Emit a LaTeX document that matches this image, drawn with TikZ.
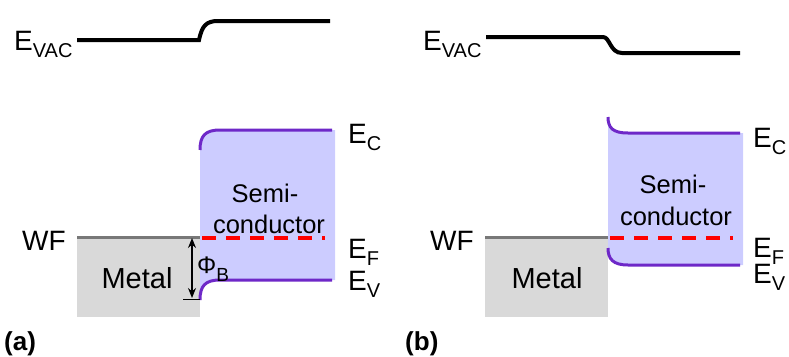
\documentclass[tikz,border=0pt]{standalone}
\usepackage{fontspec}
\setmainfont{Liberation Sans}
\usetikzlibrary{arrows.meta}
\definecolor{bandline}{RGB}{110,40,200}
\definecolor{semifill}{RGB}{204,204,255}
\definecolor{metalfill}{RGB}{217,217,217}
\definecolor{wfgray}{RGB}{120,120,120}
\newcommand{\esub}[2]{#1\raisebox{-7pt}{\fontsize{20}{20}\selectfont #2}}
\begin{document}
\begin{tikzpicture}[x=1pt,y=-1pt,
  lbl/.style={inner sep=0pt, font=\fontsize{28}{30}\selectfont, anchor=base west},
  ctr/.style={inner sep=0pt, anchor=base},
  band/.style={bandline, line width=3pt},
  vac/.style={black, line width=4pt},
  wfline/.style={wfgray, line width=3pt},
  efline/.style={red, line width=3.5pt, dash pattern=on 14pt off 10pt},
  panel/.style={inner sep=0pt, anchor=base west, font=\fontsize{26}{28}\selectfont\bfseries}]
\useasboundingbox (0,0) rectangle (789,356);

% ---------------- panel (a) ----------------
\fill[semifill] (200,150) .. controls (200,136) and (205,130) .. (220,130) -- (335,130) -- (335,280) -- (220,280) .. controls (205,280) and (200,286) .. (200,300) -- cycle;
\fill[metalfill] (77,237) rectangle (200,317);
\draw[band] (200,150) .. controls (200,136) and (205,130) .. (220,130) -- (332,130);
\draw[band] (200,300) .. controls (200,286) and (205,280) .. (220,280) -- (332,280);
\draw[wfline] (77,237) -- (200,237);
\draw[efline] (202,238) -- (325,238);
\draw[vac] (77,40) -- (199,40) .. controls (202,26) and (206,21) .. (218,21) -- (330,21);
\coordinate (phitop) at (192,238);
\coordinate (phibot) at (192,298);
\coordinate (tickl) at (183,299);
\coordinate (tickr) at (200,299);
\draw[{Stealth[length=10pt,width=8pt]}-{Stealth[length=10pt,width=8pt]}, line width=1.4pt] (phitop) -- (phibot);
\draw[line width=1pt] (tickl) -- (tickr);

\node[lbl] (evaca) at (14,50) {\esub{E}{VAC}};
\node[lbl] (wfa) at (22,250) {WF};
\node[ctr, font=\fontsize{29}{30}\selectfont] (metala) at (137,288) {Metal};
\node[ctr, font=\fontsize{25.5}{27}\selectfont] (semia) at (265,202) {Semi-};
\node[ctr, font=\fontsize{25.5}{27}\selectfont] (conda) at (269,233) {conductor};
\node[inner sep=0pt, anchor=base west, font=\fontsize{24}{26}\selectfont] (phib) at (197,273) {Φ\raisebox{-8pt}{\fontsize{19}{19}\selectfont B}};
\node[lbl] (eca) at (348,143) {\esub{E}{C}};
\node[lbl] (efa) at (348,258) {\esub{E}{F}};
\node[lbl] (eva) at (348,290) {\esub{E}{V}};
\node[panel] (pa) at (4,350) {(a)};

% ---------------- panel (b) ----------------
\fill[semifill] (608,117) .. controls (608,128) and (613,133) .. (628,133) -- (743,133) -- (743,265) -- (628,265) .. controls (613,265) and (608,259) .. (608,248) -- cycle;
\fill[metalfill] (485,237) rectangle (608,317);
\draw[band] (608,117) .. controls (608,128) and (613,133) .. (628,133) -- (740,133);
\draw[band] (608,248) .. controls (608,259) and (613,265) .. (628,265) -- (740,265);
\draw[wfline] (485,237) -- (608,237);
\draw[efline] (610,238) -- (733,238);
\draw[vac] (486,37) -- (603,37) .. controls (610,37) and (610,53) .. (622,53) -- (740,53);

\node[lbl] (evacb) at (423,50) {\esub{E}{VAC}};
\node[lbl] (wfb) at (430,250) {WF};
\node[ctr, font=\fontsize{29}{30}\selectfont] (metalb) at (547,288) {Metal};
\node[ctr, font=\fontsize{25.5}{27}\selectfont] (semib) at (673,193) {Semi-};
\node[ctr, font=\fontsize{25.5}{27}\selectfont] (condb) at (676,225) {conductor};
\node[lbl] (ecb) at (753,147) {\esub{E}{C}};
\node[lbl] (efb) at (753,257) {\esub{E}{F}};
\node[lbl] (evb) at (753,283) {\esub{E}{V}};
\node[panel] (pb) at (405,350) {(b)};
\end{tikzpicture}
\end{document}
